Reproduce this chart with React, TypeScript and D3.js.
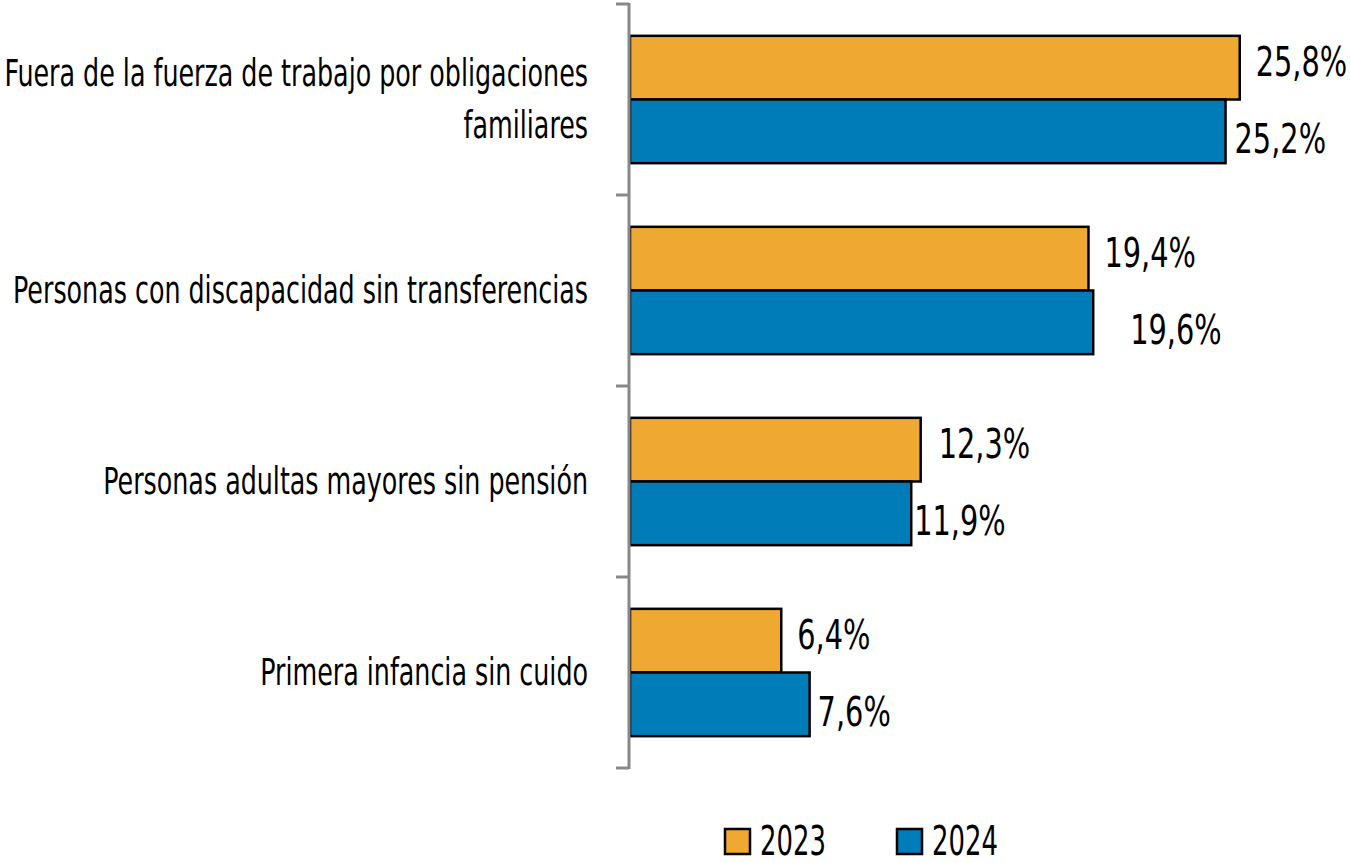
import React, { useEffect, useRef } from "react";
import * as d3 from "d3";

// categories (each as display lines) and series values in %
const categoryLines: string[][] = [
  ["Fuera de la fuerza de trabajo por obligaciones", "familiares"],
  ["Personas con discapacidad sin transferencias"],
  ["Personas adultas mayores sin pensión"],
  ["Primera infancia sin cuido"],
];
const seriesNames = ["2023", "2024"];
const values2023 = [25.8, 19.4, 12.3, 6.4];
const values2024 = [25.2, 19.6, 11.9, 7.6];

// manual label nudges (px), as placed in the original
const labelDx2023 = [16, 16, 18, 16];
const labelDx2024 = [9, 37, 3, 8];

const colors = ["#EFA831", "#007DB8"];
const FONT = "'Liberation Sans Narrow', 'Arial Narrow', 'DejaVu Sans Condensed', sans-serif";

// condensed text: draw in a group squeezed horizontally
function condensed(parent: any, x: number, y: number, sx: number, size: number, anchor: string) {
  return parent.append("g")
    .attr("transform", `translate(${x},${y}) scale(${sx},1)`)
    .append("text")
    .attr("text-anchor", anchor)
    .attr("font-family", FONT)
    .attr("font-size", size)
    .attr("fill", "#000");
}

const App = () => {
  const svgRef = useRef<SVGSVGElement>(null);

  useEffect(() => {
    document.body.style.margin = "0";
    const svg = d3.select(svgRef.current);
    svg.selectAll("*").remove();

    const x0 = 630;

    const ids = categoryLines.map((_, i) => String(i));
    const y = d3.scaleBand().domain(ids).range([4, 768]).padding(0);
    const bw = y.bandwidth();
    const ySub = d3.scaleBand().domain(seriesNames).range([bw / 6, bw * 5 / 6]).padding(0);
    const x = d3.scaleLinear().domain([0, 30]).range([x0, 1339]);

    const rows = ids.map((id, i) => ({
      id,
      vals: [values2023[i], values2024[i]],
      dx: [labelDx2023[i], labelDx2024[i]],
    }));

    // bars + value labels
    const g = svg.append("g");
    rows.forEach((r) => {
      seriesNames.forEach((s, j) => {
        const top = (y(r.id) as number) + (ySub(s) as number);
        g.append("rect")
          .attr("x", x(0))
          .attr("y", top)
          .attr("width", x(r.vals[j]) - x(0))
          .attr("height", ySub.bandwidth())
          .attr("fill", colors[j])
          .attr("stroke", "#000")
          .attr("stroke-width", 2.5);

        condensed(g, x(r.vals[j]) + r.dx[j], top + ySub.bandwidth() / 2 + (j === 0 ? -6 : 8), 0.8, 40, "start")
          .attr("dy", "0.35em")
          .text(d3.format(".1f")(r.vals[j]).replace(".", ",") + "%");
      });
    });

    // axis line and ticks
    const axis = svg.append("g").attr("stroke", "#888").attr("stroke-width", 3);
    axis.append("line").attr("x1", x0 - 1).attr("x2", x0 - 1).attr("y1", 3).attr("y2", 769);
    const tickYs = [...ids.map((id) => y(id) as number), 768];
    tickYs.forEach((ty) => {
      axis.append("line").attr("x1", 616).attr("x2", x0 - 1).attr("y1", ty).attr("y2", ty);
    });

    // category labels
    categoryLines.forEach((lines, i) => {
      const cy = (y(ids[i]) as number) + bw / 2;
      const lh = 52;
      lines.forEach((ln, k) => {
        condensed(svg, 588, cy + (k - (lines.length - 1) / 2) * lh, 0.762, 37, "end")
          .attr("dy", "0.35em")
          .text(ln);
      });
    });

    // legend
    const legendX = [725, 897];
    seriesNames.forEach((s, j) => {
      svg.append("rect")
        .attr("x", legendX[j])
        .attr("y", 829)
        .attr("width", 25)
        .attr("height", 25)
        .attr("fill", colors[j])
        .attr("stroke", "#000")
        .attr("stroke-width", 2.5);
      condensed(svg, legendX[j] + 35, 841, 0.72, 40, "start")
        .attr("dy", "0.35em")
        .text(s);
    });
  }, []);

  return <svg ref={svgRef} width={1350} height={863} style={{ display: "block", background: "#fff" }}></svg>;
};

export default App;
